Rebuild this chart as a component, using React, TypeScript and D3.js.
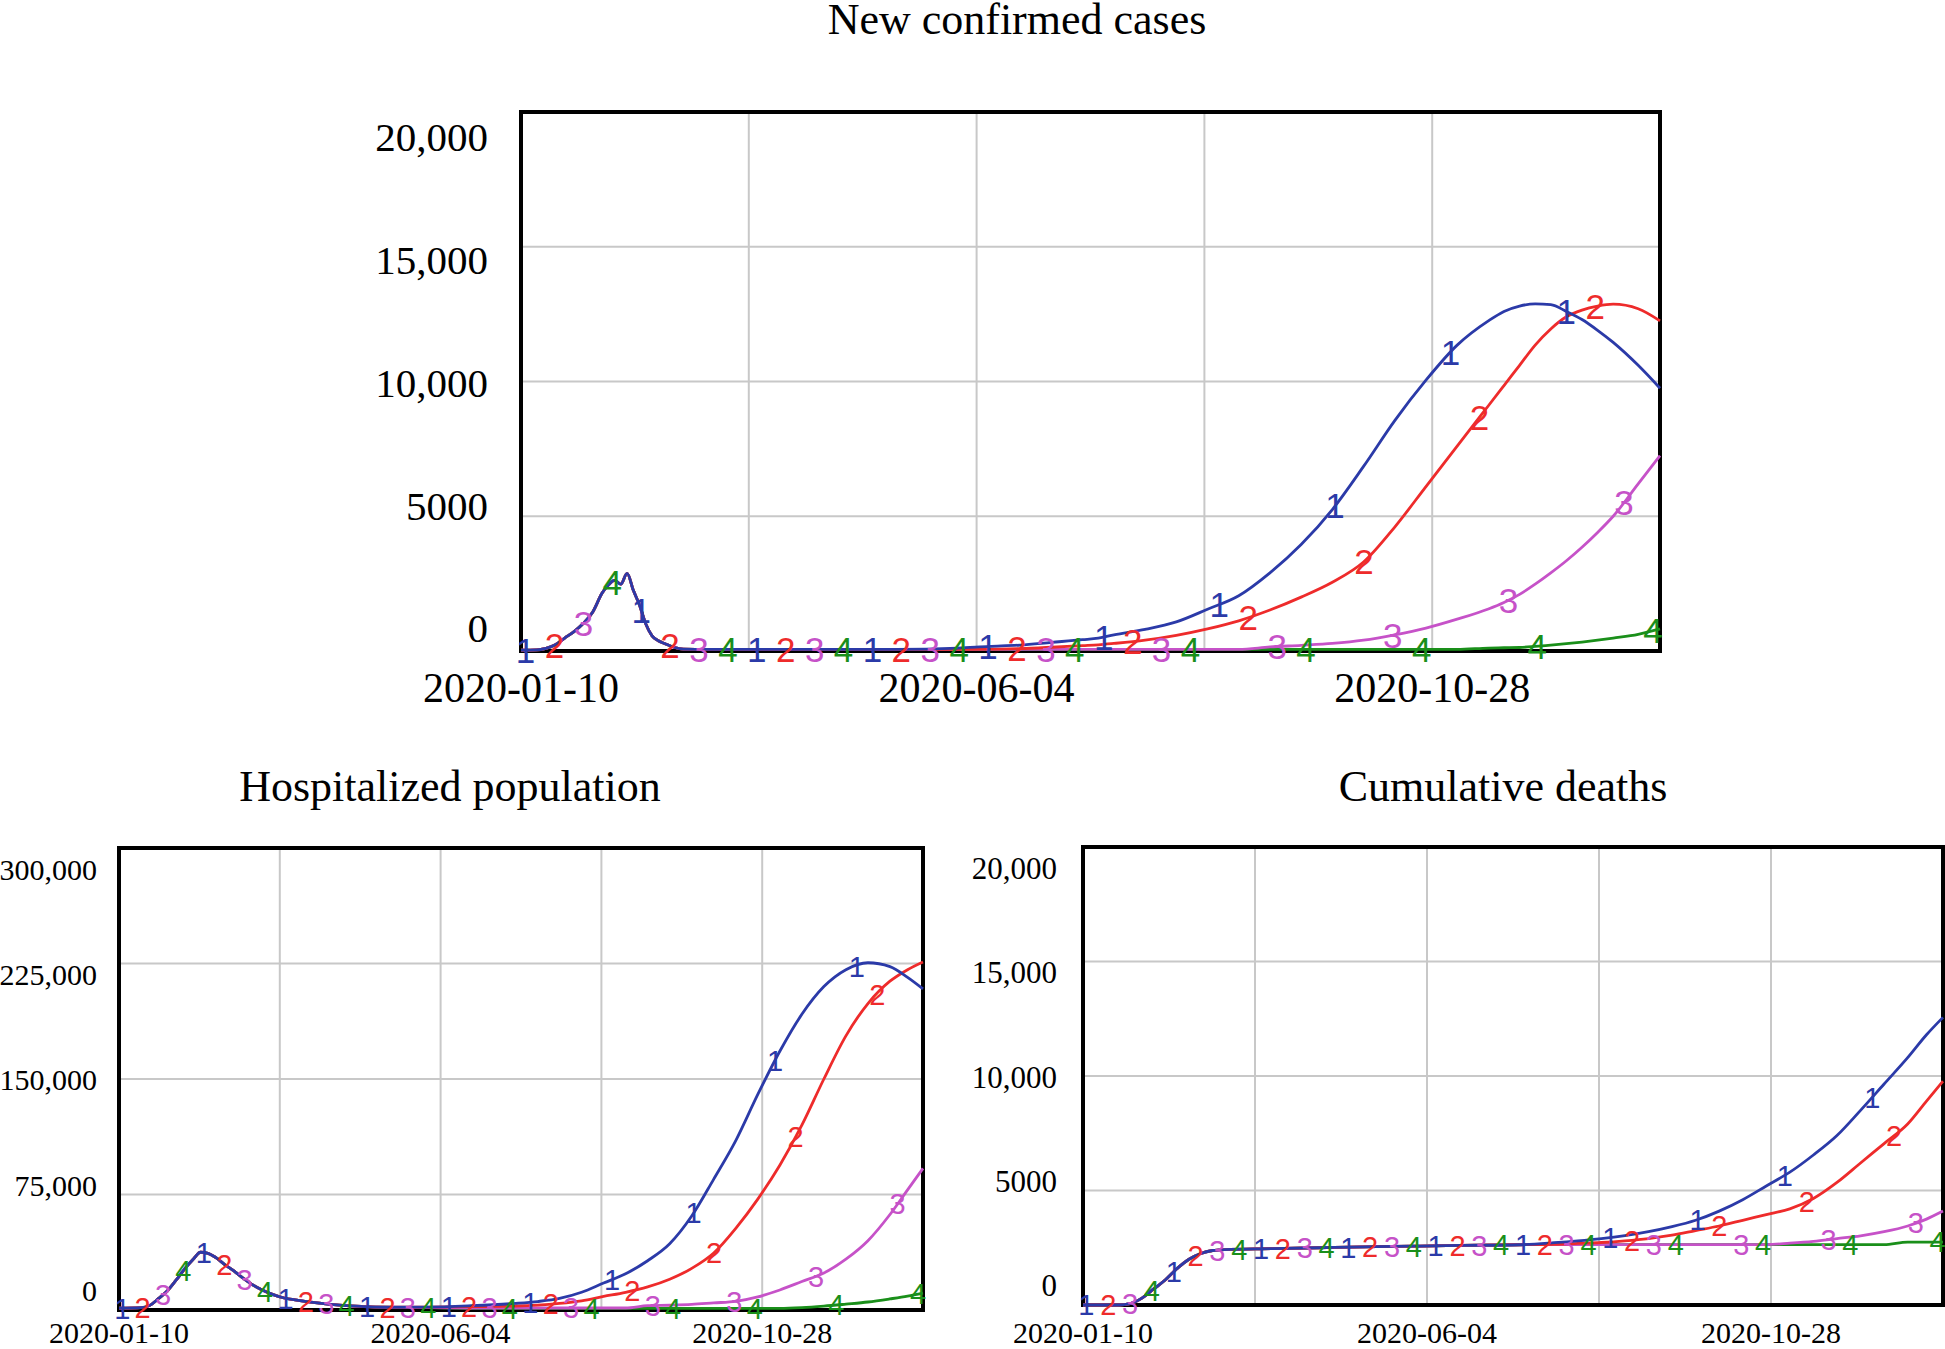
import React from 'react';
import * as d3 from 'd3';

// ---------- shared ----------
const dateLabels = ['2020-01-10', '2020-06-04', '2020-10-28'];
const dateLabelDays = [0, 146, 292];
const gridDays = [73, 146, 219, 292];
const totalDays = 365;
const seriesNames = ['1', '2', '3', '4'];
const seriesColors = ['#2b3aa8', '#ee2b2b', '#c652c8', '#1a8f1a'];
const markerCount = 40;

// ---------- New confirmed cases ----------
const casesTitle = 'New confirmed cases';
const casesTicks = ['20,000', '15,000', '10,000', '5000', '0'];
const casesGrid = [5000, 10000, 15000];
const casesMax = 20000;
const casesDays = [0, 5, 8, 11, 14, 17, 20, 23, 26, 28, 30, 32, 34, 36, 38, 40, 42, 44, 46, 49, 52, 60, 80, 100, 120, 140, 150, 160, 170, 180, 185, 190, 200, 210, 220, 230, 240, 250, 260, 270, 280, 290, 300, 310, 315, 320, 325, 330, 335, 340, 345, 350, 358, 365];
const casesS1 = [30, 40, 100, 230, 480, 720, 1030, 1450, 2150, 2450, 2620, 2480, 2880, 2250, 1700, 1000, 560, 380, 280, 140, 70, 60, 60, 60, 60, 110, 170, 220, 320, 420, 480, 600, 800, 1080, 1550, 2050, 2900, 3950, 5250, 6850, 8550, 10050, 11350, 12250, 12600, 12800, 12880, 12850, 12600, 12300, 11900, 11450, 10600, 9750];
const casesS2 = [30, 40, 100, 230, 480, 720, 1030, 1450, 2150, 2450, 2620, 2480, 2880, 2250, 1700, 1000, 560, 380, 280, 140, 70, 60, 60, 60, 60, 60, 70, 90, 140, 200, 230, 280, 400, 580, 820, 1120, 1520, 2000, 2550, 3300, 4600, 6100, 7600, 9100, 9850, 10600, 11350, 11950, 12400, 12650, 12800, 12870, 12700, 12250];
const casesS3 = [30, 40, 100, 230, 480, 720, 1030, 1450, 2150, 2450, 2620, 2480, 2880, 2250, 1700, 1000, 560, 380, 280, 140, 70, 60, 60, 60, 60, 60, 60, 60, 60, 60, 60, 60, 60, 60, 60, 60, 150, 210, 280, 400, 600, 850, 1180, 1560, 1800, 2100, 2480, 2900, 3350, 3850, 4400, 5000, 6200, 7250];
const casesS4 = [30, 40, 100, 230, 480, 720, 1030, 1450, 2150, 2450, 2620, 2480, 2880, 2250, 1700, 1000, 560, 380, 280, 140, 70, 60, 60, 60, 60, 60, 60, 60, 60, 60, 60, 60, 60, 60, 60, 60, 60, 60, 60, 60, 60, 60, 60, 110, 120, 130, 170, 220, 270, 330, 400, 480, 620, 820];

// ---------- Hospitalized population ----------
const hospTitle = 'Hospitalized population';
const hospTicks = ['300,000', '225,000', '150,000', '75,000', '0'];
const hospGrid = [75000, 150000, 225000];
const hospMax = 300000;
const hospDays = [0, 10, 14, 18, 22, 26, 30, 34, 37, 40, 44, 48, 52, 56, 60, 65, 70, 75, 80, 90, 100, 110, 120, 140, 160, 180, 190, 200, 210, 220, 230, 240, 250, 260, 270, 280, 290, 300, 310, 320, 330, 340, 350, 358, 365];
const hospS1 = [1200, 1500, 3000, 7500, 12500, 19500, 27000, 33500, 37500, 37000, 34000, 29500, 25500, 21000, 17000, 13000, 10000, 7800, 6600, 4600, 3200, 2300, 1800, 1900, 2800, 4300, 5500, 7500, 11500, 17500, 23500, 32000, 43000, 61000, 85000, 110000, 140000, 168000, 192000, 210000, 221000, 225500, 223000, 216000, 208500];
const hospS2 = [1200, 1500, 3000, 7500, 12500, 19500, 27000, 33500, 37500, 37000, 34000, 29500, 25500, 21000, 17000, 13000, 10000, 7800, 6600, 4600, 3200, 2300, 1800, 1900, 2200, 2600, 3200, 4300, 6000, 8800, 11500, 15000, 20000, 27000, 37000, 53000, 72000, 94000, 120000, 150000, 178000, 199000, 213500, 221000, 226000];
const hospS3 = [1200, 1500, 3000, 7500, 12500, 19500, 27000, 33500, 37500, 37000, 34000, 29500, 25500, 21000, 17000, 13000, 10000, 7800, 6600, 4600, 3200, 2300, 1800, 1500, 1300, 1300, 1300, 1300, 1300, 1300, 1300, 2800, 3100, 3600, 4600, 5600, 8500, 13000, 18500, 24000, 33000, 45000, 62000, 78000, 92000];
const hospS4 = [1200, 1500, 3000, 7500, 12500, 19500, 27000, 33500, 37500, 37000, 34000, 29500, 25500, 21000, 17000, 13000, 10000, 7800, 6600, 4600, 3200, 2300, 1800, 1500, 1100, 1000, 1000, 1000, 1000, 1000, 1000, 1000, 1000, 1000, 1000, 1000, 1000, 1000, 1500, 2500, 3800, 5200, 7200, 9000, 11000];

// ---------- Cumulative deaths ----------
const deathsTitle = 'Cumulative deaths';
const deathsTicks = ['20,000', '15,000', '10,000', '5000', '0'];
const deathsGrid = [5000, 10000, 15000];
const deathsMax = 20000;
const deathsDays = [0, 15, 20, 25, 30, 35, 40, 45, 50, 55, 60, 80, 100, 120, 140, 160, 185, 200, 210, 220, 230, 240, 250, 260, 270, 280, 290, 300, 310, 320, 330, 340, 350, 358, 365];
const deathsS1 = [0, 0, 60, 300, 700, 1100, 1600, 2000, 2250, 2380, 2420, 2460, 2500, 2540, 2570, 2600, 2630, 2720, 2800, 2900, 3030, 3200, 3420, 3700, 4100, 4600, 5200, 5800, 6550, 7400, 8500, 9650, 10800, 11800, 12560];
const deathsS2 = [0, 0, 60, 300, 700, 1100, 1600, 2000, 2250, 2380, 2420, 2460, 2500, 2540, 2570, 2600, 2630, 2650, 2690, 2730, 2800, 2900, 3050, 3250, 3450, 3700, 3950, 4200, 4650, 5350, 6200, 7050, 7900, 8900, 9770];
const deathsS3 = [0, 0, 60, 300, 700, 1100, 1600, 2000, 2250, 2380, 2420, 2460, 2500, 2540, 2570, 2600, 2630, 2640, 2640, 2640, 2640, 2640, 2640, 2640, 2640, 2640, 2640, 2700, 2780, 2900, 3020, 3200, 3450, 3750, 4100];
const deathsS4 = [0, 0, 60, 300, 700, 1100, 1600, 2000, 2250, 2380, 2420, 2460, 2500, 2540, 2570, 2600, 2630, 2640, 2640, 2640, 2640, 2640, 2640, 2640, 2640, 2640, 2640, 2640, 2640, 2640, 2640, 2640, 2750, 2750, 2750];

const SERIF = '"Liberation Serif", "Times New Roman", serif';
const SANS = '"Liberation Sans", Arial, sans-serif';

type ChartProps = {
  x0: number; x1: number; y0: number; y1: number;
  title: string; titleX: number; titleY: number;
  ticks: string[]; grid: number[]; yMax: number;
  tickRight: number; tickFont: number;
  xLabelY: number; xLabelFont: number;
  days: number[]; series: number[][];
  markerFont: number;
};

function Chart(p: ChartProps) {
  const x = d3.scaleLinear().domain([0, totalDays]).range([p.x0, p.x1]);
  const y = d3.scaleLinear().domain([0, p.yMax]).range([p.y1, p.y0]);
  const h = p.y1 - p.y0;
  const labelPos = d3.scaleLinear().domain([0, p.ticks.length - 1]).range([p.y0 + 0.047 * h, p.y0 + 0.958 * h]);
  const line = d3.line<[number, number]>().x(d => x(d[0])).y(d => y(d[1])).curve(d3.curveMonotoneX);
  const order = [3, 2, 1, 0];
  const markers = d3.range(markerCount).map(k => {
    const day = totalDays * (0.004 + k * 0.02538);
    const s = k % 4;
    const interp = d3.scaleLinear().domain(p.days).range(p.series[s]).clamp(true);
    return { k, s, cx: x(day), cy: y(interp(day)) };
  });
  return (
    <g>
      <text x={p.titleX} y={p.titleY} textAnchor="middle" fontFamily={SERIF} fontSize={44} fill="#000">{p.title}</text>
      {p.grid.map(v => (
        <line key={'h' + v} x1={p.x0} x2={p.x1} y1={y(v)} y2={y(v)} stroke="#c8c8c8" strokeWidth={2} />
      ))}
      {gridDays.map(d => (
        <line key={'v' + d} x1={x(d)} x2={x(d)} y1={p.y0} y2={p.y1} stroke="#c8c8c8" strokeWidth={2} />
      ))}
      <rect x={p.x0} y={p.y0} width={p.x1 - p.x0} height={p.y1 - p.y0} fill="none" stroke="#000" strokeWidth={4} />
      {p.ticks.map((t, i) => (
        <text key={'t' + i} x={p.tickRight} y={labelPos(i) + p.tickFont * 0.34} textAnchor="end" fontFamily={SERIF} fontSize={p.tickFont} fill="#000">{t}</text>
      ))}
      {dateLabels.map((t, i) => (
        <text key={'d' + i} x={x(dateLabelDays[i])} y={p.xLabelY} textAnchor="middle" fontFamily={SERIF} fontSize={p.xLabelFont} fill="#000">{t}</text>
      ))}
      {order.map(s => (
        <path key={'l' + s} d={line(p.days.map((d, i) => [d, p.series[s][i]] as [number, number])) || ''} fill="none" stroke={seriesColors[s]} strokeWidth={2.8} strokeLinejoin="round" />
      ))}
      {markers.map(m => (
        <text key={'m' + m.k} x={m.cx} y={m.cy + p.markerFont * 0.36} textAnchor="middle" fontFamily={SANS} fontSize={p.markerFont} fill={seriesColors[m.s]}>{seriesNames[m.s]}</text>
      ))}
    </g>
  );
}

export default function App() {
  return (
    <svg width={1945} height={1349} style={{ position: 'absolute', left: 0, top: 0, background: '#fff' }}>
      <rect x={0} y={0} width={1945} height={1349} fill="#fff" />
      <Chart x0={521} x1={1660} y0={112} y1={651}
        title={casesTitle} titleX={1017} titleY={34}
        ticks={casesTicks} grid={casesGrid} yMax={casesMax}
        tickRight={488} tickFont={41} xLabelY={702} xLabelFont={42}
        days={casesDays} series={[casesS1, casesS2, casesS3, casesS4]} markerFont={35} />
      <Chart x0={119} x1={923} y0={848} y1={1310}
        title={hospTitle} titleX={450} titleY={801}
        ticks={hospTicks} grid={hospGrid} yMax={hospMax}
        tickRight={97} tickFont={30} xLabelY={1343} xLabelFont={30}
        days={hospDays} series={[hospS1, hospS2, hospS3, hospS4]} markerFont={29} />
      <Chart x0={1083} x1={1943} y0={847} y1={1305}
        title={deathsTitle} titleX={1503} titleY={801}
        ticks={deathsTicks} grid={deathsGrid} yMax={deathsMax}
        tickRight={1057} tickFont={31} xLabelY={1343} xLabelFont={30}
        days={deathsDays} series={[deathsS1, deathsS2, deathsS3, deathsS4]} markerFont={29} />
    </svg>
  );
}
